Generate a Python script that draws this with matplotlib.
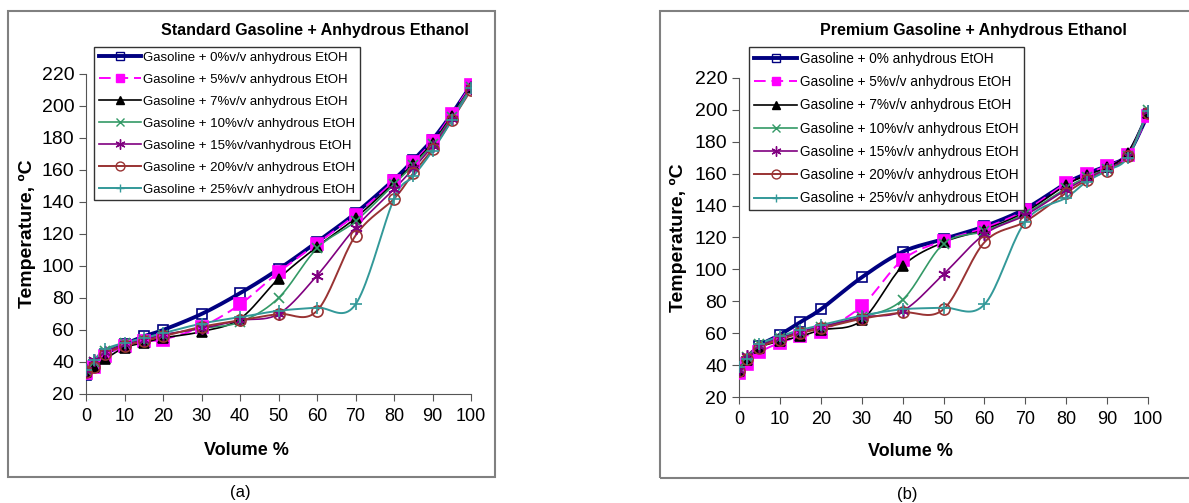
import numpy as np
import matplotlib.pyplot as plt
from matplotlib.lines import Line2D
from matplotlib.patches import Rectangle

# volume % recovered
vol = [0, 2, 5, 10, 15, 20, 30, 40, 50, 60, 70, 80, 85, 90, 95, 100]

# (a) standard gasoline + anhydrous ethanol, temperature in C
std_0 = [32, 38, 45, 51, 56, 60, 70, 83, 98, 115, 133, 154, 166, 179, 195, 213]
std_5 = [33, 37, 44, 50, 53, 54, 62, 76, 96, 114, 132, 153, 165, 178, 195, 213]
std_7 = [34, 37, 42, 49, 52, 55, 59, 67, 92, 112, 130, 152, 164, 177, 194, 212]
std_10 = [35, 40, 47, 52, 54, 57, 61, 65, 80, 111, 128, 151, 163, 176, 193, 212]
std_15 = [35, 41, 46, 51, 54, 57, 61, 66, 70, 94, 124, 148, 161, 175, 192, 211]
std_20 = [34, 37, 45, 50, 53, 56, 62, 66, 70, 72, 119, 142, 158, 173, 191, 210]
std_25 = [35, 41, 48, 52, 55, 58, 64, 68, 72, 74, 76, 142, 156, 172, 191, 211]

# (b) premium gasoline + anhydrous ethanol
pre_0 = [35, 42, 52, 59, 67, 75, 95, 111, 119, 127, 138, 154, 160, 165, 172, 197]
pre_5 = [35, 41, 48, 54, 58, 61, 77, 106, 118, 126, 137, 154, 160, 165, 172, 196]
pre_7 = [36, 43, 51, 55, 58, 62, 68, 102, 117, 125, 136, 153, 159, 164, 173, 198]
pre_10 = [38, 45, 53, 57, 61, 64, 70, 81, 116, 124, 135, 151, 158, 163, 171, 200]
pre_15 = [37, 46, 52, 57, 61, 64, 70, 74, 97, 122, 134, 150, 157, 163, 171, 199]
pre_20 = [36, 44, 51, 56, 60, 63, 69, 73, 75, 117, 130, 148, 156, 162, 171, 198]
pre_25 = [39, 44, 53, 58, 62, 65, 71, 75, 76, 78, 130, 145, 155, 162, 170, 199]

labels_a = ["Gasoline + 0%v/v anhydrous EtOH", "Gasoline + 5%v/v anhydrous EtOH",
            "Gasoline + 7%v/v anhydrous EtOH", "Gasoline + 10%v/v anhydrous EtOH",
            "Gasoline + 15%v/vanhydrous EtOH", "Gasoline + 20%v/v anhydrous EtOH",
            "Gasoline + 25%v/v anhydrous EtOH"]
labels_b = ["Gasoline + 0% anhydrous EtOH", "Gasoline + 5%v/v anhydrous EtOH",
            "Gasoline + 7%v/v anhydrous EtOH", "Gasoline + 10%v/v anhydrous EtOH",
            "Gasoline + 15%v/v anhydrous EtOH", "Gasoline + 20%v/v anhydrous EtOH",
            "Gasoline + 25%v/v anhydrous EtOH"]

# colour, linestyle, linewidth, marker, filled
styles = [
    ("#000080", "-", 2.8, "s", False),
    ("#ff00ff", (0, (6, 3)), 1.4, "s", True),
    ("#000000", "-", 1.2, "^", True),
    ("#339966", "-", 1.2, "x", True),
    ("#800080", "-", 1.2, (6, 2, 0), True),
    ("#993333", "-", 1.4, "o", False),
    ("#339999", "-", 1.4, "+", True),
]
msizes = [7, 8, 7, 7, 9, 8, 8]

W, H = 1189, 503


def smooth(x, y, n=20):
    # catmull-rom through the points, like excel's smoothed line
    x = np.asarray(x, float)
    y = np.asarray(y, float)
    px = np.concatenate([[2 * x[0] - x[1]], x, [2 * x[-1] - x[-2]]])
    py = np.concatenate([[2 * y[0] - y[1]], y, [2 * y[-1] - y[-2]]])
    t = np.linspace(0, 1, n, endpoint=False)
    xs, ys = [], []
    for i in range(1, len(px) - 2):
        for p, out in ((px, xs), (py, ys)):
            p0, p1, p2, p3 = p[i - 1], p[i], p[i + 1], p[i + 2]
            out.append(0.5 * (2 * p1 + (-p0 + p2) * t + (2 * p0 - 5 * p1 + 4 * p2 - p3) * t ** 2
                              + (-p0 + 3 * p1 - 3 * p2 + p3) * t ** 3))
    xs.append([x[-1]])
    ys.append([y[-1]])
    return np.concatenate(xs), np.concatenate(ys)


def draw(ax, series, labels, title, title_xy, leg_xy, leg_fs, leg_sp, xl_xy, yl_x):
    handles = []
    for y, (c, ls, lw, mk, filled), ms in zip(series, styles, msizes):
        sx, sy = smooth(vol, y)
        ax.plot(sx, sy, color=c, ls=ls, lw=lw, zorder=2)
        mfc = c if filled else "none"
        ax.plot(vol, y, ls="none", marker=mk, ms=ms, mfc=mfc, mec=c, mew=1.2, zorder=3)
        handles.append(Line2D([], [], color=c, ls=ls, lw=lw, marker=mk, ms=ms * 0.8,
                              mfc=mfc, mec=c, mew=1.0))
    ax.set_xlim(0, 100)
    ax.set_ylim(20, 220)
    ax.set_xticks(range(0, 101, 10))
    ax.set_yticks(range(20, 221, 20))
    for s in ("top", "right"):
        ax.spines[s].set_visible(False)
    ax.spines["left"].set_color("#555555")
    ax.spines["bottom"].set_color("#555555")
    ax.tick_params(direction="out", length=5, color="#555555")
    ax.tick_params(axis="x", labelsize=13, pad=5)
    ax.tick_params(axis="y", labelsize=14)
    ax.set_xlabel("Volume %", fontsize=13, fontweight="bold")
    ax.set_ylabel("Temperature, ºC", fontsize=14, fontweight="bold")
    ax.xaxis.set_label_coords(*xl_xy)
    ax.yaxis.set_label_coords(yl_x, 0.5)
    leg = ax.legend(handles, labels, loc="upper left",
                    bbox_to_anchor=(leg_xy[0] / W, 1 - leg_xy[1] / H),
                    bbox_transform=fig.transFigure,
                    fontsize=leg_fs, handlelength=3.2, handletextpad=0.2,
                    labelspacing=leg_sp, borderpad=0.35, borderaxespad=0,
                    fancybox=False, framealpha=1)
    leg.get_frame().set_edgecolor("#333333")
    leg.get_frame().set_linewidth(1.0)
    fig.text(title_xy[0] / W, 1 - title_xy[1] / H, title, ha="center", va="center",
             fontsize=11.5, fontweight="bold")


plt.rcParams["font.family"] = ["Liberation Sans", "DejaVu Sans"]
fig = plt.figure(figsize=(W / 100, H / 100), dpi=100)

ax1 = fig.add_axes([86 / W, 1 - 394 / H, 385 / W, 320 / H])
ax2 = fig.add_axes([739 / W, 1 - 397 / H, 409 / W, 319 / H])

draw(ax1, [std_0, std_5, std_7, std_10, std_15, std_20, std_25], labels_a,
     "Standard Gasoline + Anhydrous Ethanol", (315, 31), (94, 47), 9.5, 0.74,
     (0.418, -0.15), -0.13)
draw(ax2, [pre_0, pre_5, pre_7, pre_10, pre_15, pre_20, pre_25], labels_b,
     "Premium Gasoline + Anhydrous Ethanol", (973, 31), (749, 47), 9.8, 0.68,
     (0.42, -0.144), -0.127)

# outer chart frames
fig.patches.append(Rectangle((8 / W, 1 - 477 / H), 487 / W, 466 / H,
                             transform=fig.transFigure, fill=False, ec="#808080", lw=1.5))
fig.patches.append(Rectangle((660 / W, 1 - 478 / H), 540 / W, 467 / H,
                             transform=fig.transFigure, fill=False, ec="#808080", lw=1.5))

fig.text(240 / W, 1 - 493 / H, "(a)", ha="center", va="center", fontsize=12)
fig.text(907 / W, 1 - 494 / H, "(b)", ha="center", va="center", fontsize=12)

fig.savefig("out.png", dpi=100)
